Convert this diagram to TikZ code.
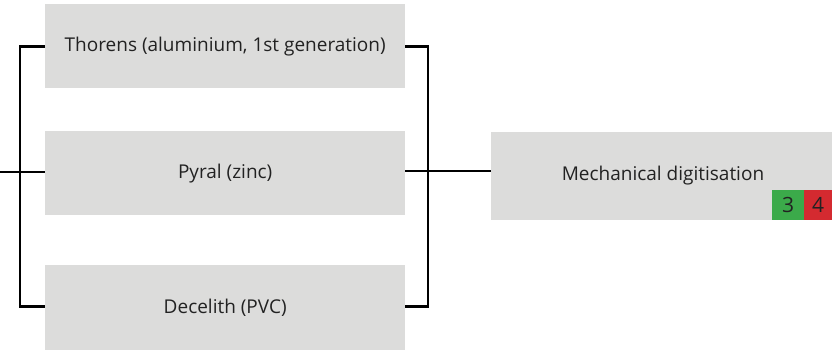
\documentclass[tikz,border=0pt]{standalone}
\usepackage{fontspec}
\setmainfont{Open Sans}
\definecolor{boxgray}{HTML}{DCDCDB}
\definecolor{badgegreen}{HTML}{3BAA4A}
\definecolor{badgered}{HTML}{D42A30}
\definecolor{txt}{HTML}{222222}
\begin{document}
\begin{tikzpicture}[x=1pt,y=-1pt,
  gbox/.style={fill=boxgray,draw=none,inner sep=0pt,anchor=north west,text=txt,font=\fontsize{19}{22}\selectfont},
  wire/.style={line width=2.4pt,black},
  badge/.style={inner sep=0pt,anchor=north west,text=txt,font=\fontsize{21}{24}\selectfont}]
\useasboundingbox (0,0) rectangle (832,350);
\node[gbox,minimum width=360pt,minimum height=84pt] (a) at (45,4) {Thorens (aluminium, 1st generation)};
\node[gbox,minimum width=360pt,minimum height=84pt] (b) at (45,131) {Pyral (zinc)};
\node[gbox,minimum width=360pt,minimum height=85pt] (c) at (45,265) {Decelith (PVC)};
\node[gbox,minimum width=341pt,minimum height=88pt] (d) at (491,132) {};
\node[text=txt,font=\fontsize{19}{22}\selectfont] (dt) at (663,176) {Mechanical digitisation};
\node[badge,fill=badgegreen,minimum width=32pt,minimum height=30pt] (g) at (772,190) {3};
\node[badge,fill=badgered,minimum width=28pt,minimum height=30pt] (r) at (804,190) {4};
\coordinate (L0) at (0,172);
\coordinate (LT) at (20,46.5);
\coordinate (LB) at (20,306.5);
\coordinate (RT) at (428,46.5);
\coordinate (RB) at (428,306.5);
\draw[wire] (a.west |- LT) -- (LT) -- (LB) -- (c.west |- LB);
\draw[wire] (L0) -- (b.west |- L0);
\draw[wire] (a.east |- RT) -- (RT) -- (RB) -- (c.east |- RB);
\draw[wire] (b.east |- 0,171) -- (d.west |- 0,171);
\end{tikzpicture}
\end{document}
